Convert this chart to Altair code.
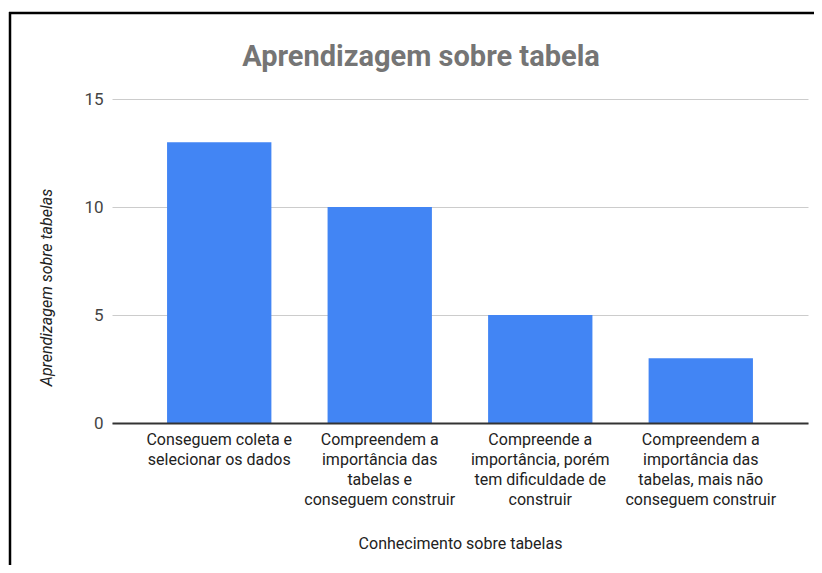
import altair as alt
import pandas as pd

categorias = [
    "Conseguem coleta e\nselecionar os dados",
    "Compreendem a\nimportância das\ntabelas e\nconseguem construir",
    "Compreende a\nimportância, porém\ntem dificuldade de\nconstruir",
    "Compreendem a\nimportância das\ntabelas, mais não\nconseguem construir",
]
valores = [13, 10, 5, 3]
y_ticks = [0, 5, 10, 15]
titulo = "Aprendizagem sobre tabela"
titulo_y = "Aprendizagem sobre tabelas"
titulo_x = "Conhecimento sobre tabelas"

df = pd.DataFrame({"cat": categorias, "val": valores})
FONT = "Roboto"

bars = alt.Chart(df).mark_bar(color="#4285F4").encode(
    x=alt.X(
        "cat:N",
        sort=categorias,
        scale=alt.Scale(paddingInner=0.35, paddingOuter=0.343),
        axis=alt.Axis(
            title=titulo_x,
            labelAngle=0,
            labelExpr="split(datum.label, '\\n')",
            labelFont=FONT,
            labelFontSize=16,
            labelColor="#222222",
            labelLineHeight=20,
            labelBaseline="top",
            labelPadding=8,
            labelLimit=300,
            ticks=False,
            domainColor="#333333",
            domainWidth=2,
            titleFont=FONT,
            titleFontSize=16,
            titleFontWeight="normal",
            titleColor="#222222",
            titleY=125,
            titleBaseline="alphabetic",
            zindex=1,
        ),
    ),
    y=alt.Y(
        "val:Q",
        scale=alt.Scale(domain=[0, 15], nice=False),
        axis=alt.Axis(
            values=y_ticks,
            title=titulo_y,
            labelFont=FONT,
            labelFontSize=17,
            labelColor="#444444",
            labelPadding=9,
            ticks=False,
            domain=False,
            gridColor="#cccccc",
            gridWidth=1,
            titleFont=FONT,
            titleFontSize=16,
            titleFontStyle="italic",
            titleFontWeight="normal",
            titleColor="#222222",
            titleAngle=270,
            titleX=-66,
            titleY=188,
            titleAlign="center",
            titleBaseline="middle",
        ),
    ),
)

title_df = pd.DataFrame({"t": [titulo]})
title_mark = alt.Chart(title_df).mark_text(
    font=FONT, fontSize=29, fontWeight="bold", color="#757575",
    align="center", baseline="alphabetic",
).encode(text="t:N", x=alt.value(309), y=alt.value(-33))

frame_df = pd.DataFrame({"k": [1]})
frame_left = alt.Chart(frame_df).mark_rule(color="#000000", strokeWidth=2.5).encode(
    x=alt.value(-102), y=alt.value(-87), y2=alt.value(480)
)
frame_top = alt.Chart(frame_df).mark_rule(color="#000000", strokeWidth=2.5).encode(
    x=alt.value(-103), x2=alt.value(720), y=alt.value(-86)
)

chart = alt.layer(bars, title_mark, frame_left, frame_top).properties(
    width=696,
    height=324,
    padding={"left": 104, "top": 91, "right": 6, "bottom": 142},
    autosize=alt.AutoSizeParams(type="none"),
    background="white",
).configure_view(stroke=None)

chart.save("out.html", embed_options={"renderer": "svg", "actions": False})
